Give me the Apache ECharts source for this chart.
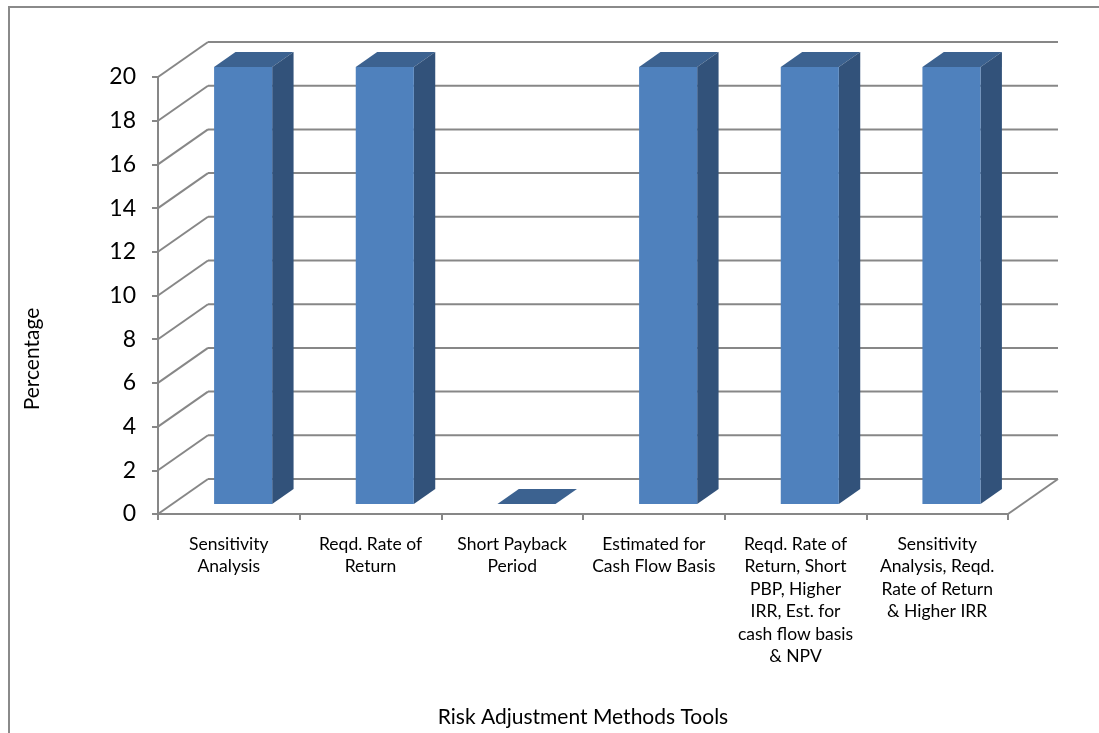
<!DOCTYPE html>
<html>
<head>
<meta charset="utf-8">
<script src="https://cdn.jsdelivr.net/npm/echarts@6/dist/echarts.min.js"></script>
<style>
  html, body { margin: 0; padding: 0; background: #fff; }
  #chart { width: 1099px; height: 733px; }
</style>
</head>
<body>
<div id="chart"></div>
<script>
// Share of respondents per risk adjustment method
const categories = [
  'Sensitivity\nAnalysis',
  'Reqd. Rate of\nReturn',
  'Short Payback\nPeriod',
  'Estimated for\nCash Flow Basis',
  'Reqd. Rate of\nReturn, Short\nPBP, Higher\nIRR, Est. for\ncash flow basis\n& NPV',
  'Sensitivity\nAnalysis, Reqd.\nRate of Return\n& Higher IRR'
];
const values = [20, 20, 0, 20, 20, 20];
const yTicks = [0, 2, 4, 6, 8, 10, 12, 14, 16, 18, 20];

// depth of the pseudo-3D box (screen offset of the back wall)
const DEPTH_X = 50;
const DEPTH_Y = -35;
// bar occupies this slice of the depth
const BAR_FRONT = 0.286;
const BAR_BACK = 0.714;
const BAR_WIDTH = 0.41;

const GRID_COLOR = '#878787';
const FONT = 'Lato, "Liberation Sans", sans-serif';

const chart = echarts.init(document.getElementById('chart'), null, { renderer: 'canvas' });

function renderWall(params, api) {
  const cs = params.coordSys;
  const v = api.value(1);
  const p = api.coord([0, v]);
  const y = p[1];
  const left = cs.x;
  const right = cs.x + cs.width;
  const style = { stroke: GRID_COLOR, lineWidth: 2, fill: null };
  const children = [
    { type: 'line', shape: { x1: left, y1: y, x2: left + DEPTH_X, y2: y + DEPTH_Y }, style },
    { type: 'line', shape: { x1: left + DEPTH_X, y1: y + DEPTH_Y, x2: right + DEPTH_X, y2: y + DEPTH_Y }, style }
  ];
  if (v === 0) {
    children.push({ type: 'line', shape: { x1: right, y1: y, x2: right + DEPTH_X, y2: y + DEPTH_Y }, style });
  }
  return { type: 'group', children };
}

function renderBar(params, api) {
  const idx = api.value(0);
  const v = api.value(1);
  const base = api.coord([idx, 0]);
  const top = api.coord([idx, v]);
  const band = api.size([1, 0])[0];
  const w = band * BAR_WIDTH;
  const x0 = base[0] - w / 2 + DEPTH_X * BAR_FRONT;
  const x1 = x0 + w;
  const yTop = top[1] + DEPTH_Y * BAR_FRONT;
  const yBot = base[1] + DEPTH_Y * BAR_FRONT;
  const ddx = DEPTH_X * (BAR_BACK - BAR_FRONT);
  const ddy = DEPTH_Y * (BAR_BACK - BAR_FRONT);
  return {
    type: 'group',
    children: [
      { type: 'polygon', shape: { points: [[x0, yTop], [x1, yTop], [x1 + ddx, yTop + ddy], [x0 + ddx, yTop + ddy]] },
        style: { fill: '#3C6290' } },
      { type: 'polygon', shape: { points: [[x1, yTop], [x1 + ddx, yTop + ddy], [x1 + ddx, yBot + ddy], [x1, yBot]] },
        style: { fill: '#32527A' } },
      { type: 'rect', shape: { x: x0, y: yTop, width: w, height: yBot - yTop },
        style: { fill: '#4F81BD' } }
    ]
  };
}

chart.setOption({
  animation: false,
  backgroundColor: '#fff',
  textStyle: { fontFamily: FONT },
  graphic: [
    {
      type: 'polyline',
      shape: { points: [[9, 733], [9, 7], [1099, 7]] },
      style: { stroke: '#8a8a8a', lineWidth: 2, fill: null },
      silent: true
    },
    {
      // vertical axis title
      type: 'text',
      x: 32,
      y: 359,
      rotation: Math.PI / 2,
      style: {
        text: 'Percentage',
        font: '21px ' + FONT,
        fill: '#000',
        align: 'center',
        verticalAlign: 'middle'
      },
      silent: true
    }
  ],
  grid: { left: 158, right: 91, top: 77, bottom: 218, containLabel: false },
  xAxis: {
    type: 'category',
    data: categories,
    boundaryGap: true,
    name: 'Risk Adjustment Methods Tools',
    nameLocation: 'middle',
    nameGap: 193,
    nameTextStyle: { fontSize: 21, color: '#000', fontFamily: FONT },
    axisLine: { show: true, lineStyle: { color: GRID_COLOR, width: 2 } },
    axisTick: { show: true, length: 6, interval: 0, lineStyle: { color: GRID_COLOR, width: 2 } },
    axisLabel: { interval: 0, fontSize: 17.5, lineHeight: 22.5, margin: 19, color: '#000', fontFamily: FONT, align: 'center' },
    splitLine: { show: false }
  },
  yAxis: {
    type: 'value',
    min: 0,
    max: 20,
    interval: 2,
    axisLine: { show: true, lineStyle: { color: GRID_COLOR, width: 2 } },
    axisTick: { show: true, length: 6, lineStyle: { color: GRID_COLOR, width: 2 } },
    axisLabel: { fontSize: 23, margin: 22, color: '#000', fontFamily: FONT },
    splitLine: { show: false }
  },
  series: [
    {
      type: 'custom',
      name: 'walls',
      renderItem: renderWall,
      data: yTicks.map(v => [0, v]),
      encode: { x: 0, y: 1 },
      clip: false,
      silent: true,
      z: 1
    },
    {
      type: 'custom',
      name: 'Percentage',
      renderItem: renderBar,
      data: values.map((v, i) => [i, v]),
      encode: { x: 0, y: 1 },
      clip: false,
      z: 2
    }
  ]
});
</script>
</body>
</html>
